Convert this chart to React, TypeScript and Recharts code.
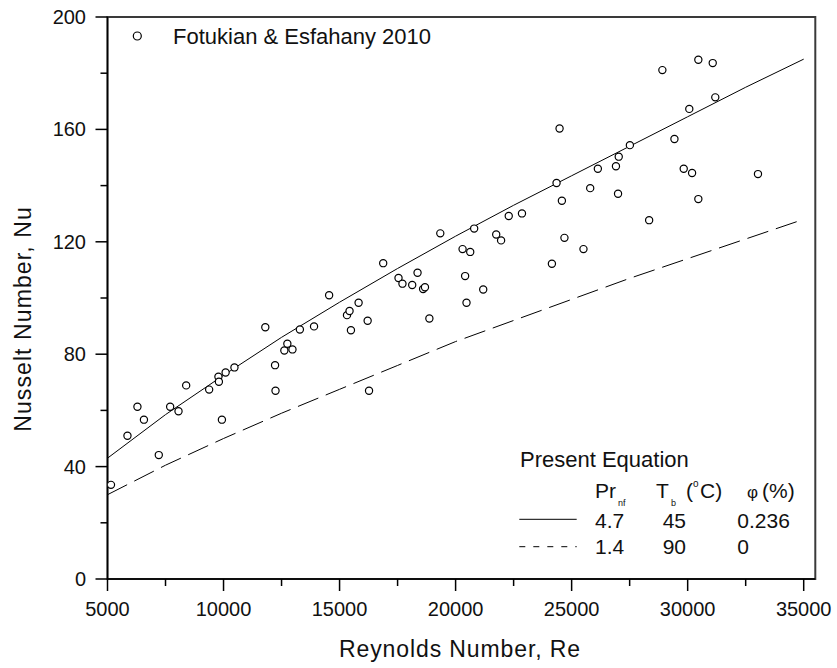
import React from 'react';
import { ComposedChart, Line, Scatter, XAxis, YAxis, ReferenceArea } from 'recharts';

// ---- Axis ticks ----
const reTicks = [5000, 7500, 10000, 12500, 15000, 17500, 20000, 22500, 25000, 27500, 30000, 32500, 35000];
const reMajor = [5000, 10000, 15000, 20000, 25000, 30000, 35000];
const nuTicks = [0, 20, 40, 60, 80, 100, 120, 140, 160, 180, 200];
const nuMajor = [0, 40, 80, 120, 160, 200];

// ---- Experimental data: Fotukian & Esfahany 2010 ----
const expRe = [
  5150, 5860, 6290, 6570, 7210, 7700, 8060, 8390, 9380, 9780, 9800, 9930, 10090, 10470,
  11800, 12220, 12240, 12620, 12750, 12970, 13290, 13900, 14550, 15320, 15430, 15490, 15820,
  16210, 16270, 16880, 17540, 17710, 18130, 18360, 18600, 18680, 18870, 19340, 20300, 20410,
  20470, 20630, 20800, 21190, 21750, 21960, 22290, 22860, 24150, 24350, 24480, 24580, 24690,
  25510, 25800, 26130, 26910, 27000, 27030, 27510, 28340, 28910, 29430, 29830, 30070, 30190,
  30460, 30460, 31080, 31190, 33030,
];
const expNu = [
  33.5, 51, 61.3, 56.7, 44.1, 61.3, 59.7, 68.9, 67.4, 72, 70.2, 56.7, 73.5, 75.3,
  89.6, 76.1, 67, 81.3, 83.7, 81.7, 88.8, 89.9, 101, 93.9, 95.4, 88.5, 98.3,
  91.9, 67, 112.4, 107.1, 105.1, 104.6, 109, 103.2, 103.8, 92.7, 123, 117.4, 107.8,
  98.3, 116.4, 124.7, 103, 122.6, 120.5, 129.2, 130.1, 112.2, 140.9, 160.3, 134.6, 121.4,
  117.4, 139.1, 146, 146.9, 137.1, 150.3, 154.4, 127.7, 181.1, 156.6, 146, 167.3, 144.5,
  135.2, 184.8, 183.6, 171.4, 144.1,
];

// ---- Present equation curves ----
const eqRe = [5000, 7500, 10000, 12500, 15000, 17500, 20000, 22500, 25000, 27500, 30000, 32500, 35000];
const solidNu = [43, 58.5, 72.5, 86, 98.5, 110.5, 122, 133, 143.5, 154, 164.5, 175, 185];
const dashedNu = [30, 40.5, 50, 59, 67.5, 76, 84.5, 92, 99.5, 107, 114, 121, 128];

const expData = expRe.map((re, i) => ({ re, nu: expNu[i] }));
const lineData = eqRe.map((re, i) => ({ re, solid: solidNu[i], dashed: dashedNu[i] }));

const FONT = '"Liberation Sans", Arial, sans-serif';

const XTick = (props: any) => {
  const { x, y, payload } = props;
  const major = reMajor.includes(payload.value);
  return (
    <g>
      <line x1={x} y1={y} x2={x} y2={y + (major ? 12 : 7)} stroke="#000" strokeWidth={1.5} />
      {major && (
        <text x={x} y={y + 37} textAnchor="middle" fontSize={20} fontFamily={FONT} fill="#111">
          {payload.value}
        </text>
      )}
    </g>
  );
};

const YTick = (props: any) => {
  const { x, y, payload } = props;
  const major = nuMajor.includes(payload.value);
  return (
    <g>
      <line x1={x} y1={y} x2={x - (major ? 12 : 7)} y2={y} stroke="#000" strokeWidth={1.5} />
      {major && (
        <text x={x - 21.5} y={y + 7} textAnchor="end" fontSize={20} fontFamily={FONT} fill="#111">
          {payload.value}
        </text>
      )}
    </g>
  );
};

const Marker = (props: any) => {
  const { cx, cy } = props;
  return <circle cx={cx} cy={cy} r={3.6} fill="#fff" stroke="#000" strokeWidth={1.2} />;
};

export default function App() {
  return (
    <div style={{ position: 'absolute', left: 0, top: 0, width: 837, height: 668, background: '#fff' }}>
      <ComposedChart
        width={837}
        height={668}
        margin={{ top: 17, right: 21.7, bottom: 88, left: 106.5 }}
        style={{ position: 'absolute', left: 0, top: 0 }}
      >
        <XAxis
          type="number"
          dataKey="re"
          domain={[5000, 35500]}
          ticks={reTicks}
          interval={0}
          height={1}
          tickSize={0}
          tickMargin={0}
          tick={<XTick />}
          axisLine={{ stroke: '#000', strokeWidth: 1.5 }}
          allowDataOverflow
        />
        <YAxis
          type="number"
          domain={[0, 200]}
          ticks={nuTicks}
          interval={0}
          width={1}
          tickSize={0}
          tickMargin={0}
          tick={<YTick />}
          axisLine={{ stroke: '#000', strokeWidth: 1.5 }}
          allowDataOverflow
        />
        <ReferenceArea
          x1={5000}
          x2={35500}
          y1={0}
          y2={200}
          fill="none"
          fillOpacity={0}
          stroke="#3a3a3a"
          strokeWidth={2}
        />
        <Line
          data={lineData}
          dataKey="solid"
          type="linear"
          stroke="#000"
          strokeWidth={1}
          dot={false}
          activeDot={false}
          isAnimationActive={false}
        />
        <Line
          data={lineData}
          dataKey="dashed"
          type="linear"
          stroke="#000"
          strokeWidth={1}
          strokeDasharray="22 8"
          dot={false}
          activeDot={false}
          isAnimationActive={false}
        />
        <Scatter data={expData} dataKey="nu" shape={<Marker />} isAnimationActive={false} />
      </ComposedChart>
      <svg
        width={837}
        height={668}
        style={{ position: 'absolute', left: 0, top: 0, pointerEvents: 'none' }}
        fontFamily={FONT}
      >
        {/* axis titles */}
        <text x={460} y={657} textAnchor="middle" fontSize={23} letterSpacing={0.9} fill="#111">
          Reynolds Number, Re
        </text>
        <text
          x={31}
          y={319}
          textAnchor="middle"
          fontSize={23}
          letterSpacing={1.1}
          fill="#111"
          transform="rotate(-90, 31, 319)"
        >
          Nusselt Number, Nu
        </text>

        {/* legend: experimental */}
        <circle cx={137.3} cy={36} r={4} fill="#fff" stroke="#000" strokeWidth={1.2} />
        <text x={173} y={44} fontSize={22} fill="#111">
          Fotukian &amp; Esfahany 2010
        </text>

        {/* legend: present equation */}
        <text x={520} y={466.5} fontSize={22} fill="#111">
          Present Equation
        </text>
        <text x={595} y={498} fontSize={21} fill="#111">
          Pr
        </text>
        <text x={618} y={506} fontSize={9} fill="#111">
          nf
        </text>
        <text x={656} y={498} fontSize={21} fill="#111">
          T
        </text>
        <text x={671} y={506} fontSize={9} fill="#111">
          b
        </text>
        <text x={686} y={498} fontSize={21} fill="#111">
          (
        </text>
        <text x={693} y={487} fontSize={10} fill="#111">
          o
        </text>
        <text x={700} y={498} fontSize={21} fill="#111">
          C)
        </text>
        <text x={747} y={498} fontSize={17} fill="#111">
          φ
        </text>
        <text x={762} y={498} fontSize={21} fill="#111">
          (%)
        </text>

        <line x1={519.3} y1={519.3} x2={576.7} y2={519.3} stroke="#000" strokeWidth={1} />
        <text x={595} y={527.5} fontSize={21} fill="#111">4.7</text>
        <text x={662.7} y={527.5} fontSize={21} fill="#111">45</text>
        <text x={737.3} y={527.5} fontSize={21} fill="#111">0.236</text>

        <line x1={519.3} y1={546.7} x2={576.7} y2={546.7} stroke="#000" strokeWidth={1} strokeDasharray="6 8" />
        <text x={595} y={554.3} fontSize={21} fill="#111">1.4</text>
        <text x={662.7} y={554.3} fontSize={21} fill="#111">90</text>
        <text x={737.3} y={554.3} fontSize={21} fill="#111">0</text>
      </svg>
    </div>
  );
}
